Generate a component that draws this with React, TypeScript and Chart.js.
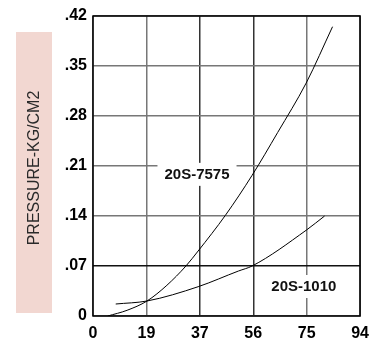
import React, { useEffect, useRef } from "react";
import { Chart, registerables } from "chart.js";

Chart.register(...registerables);

const yTitle = "PRESSURE-KG/CM2";
const xTicks = [0, 19, 37, 56, 75, 94];
const yTicks = [0, 0.07, 0.14, 0.21, 0.28, 0.35, 0.42];

const s7575X = [5.2, 12, 19, 26, 32.7, 37, 46.6, 56, 65, 75, 84.3];
const s7575Y = [0, 0.008, 0.021, 0.043, 0.07, 0.091, 0.141, 0.197, 0.257, 0.326, 0.405];
const s1010X = [8.0, 19, 37, 51.2, 56, 75, 81.5];
const s1010Y = [0.0168, 0.021, 0.041, 0.063, 0.07, 0.12, 0.14];

const labels = [
  { text: "20S-7575", x: 36.6, y: 0.199 },
  { text: "20S-1010", x: 74.2, y: 0.042 },
];

const FONT = "'Liberation Sans', Arial, sans-serif";

const decor = {
  id: "decor",
  beforeDraw(chart: any) {
    const ctx = chart.ctx;
    ctx.save();
    ctx.fillStyle = "#f2d7d1";
    ctx.fillRect(16, 32, 36, 281);
    ctx.translate(35, 168);
    ctx.rotate(-Math.PI / 2);
    ctx.fillStyle = "#2a2a2a";
    ctx.font = "16px " + FONT;
    ctx.textAlign = "center";
    ctx.textBaseline = "middle";
    ctx.fillText(yTitle, 0, 0);
    ctx.restore();
  },
  afterDatasetsDraw(chart: any) {
    const ctx = chart.ctx;
    const a = chart.chartArea;
    const xs = chart.scales.x;
    const ys = chart.scales.y;
    ctx.save();
    ctx.font = "bold 15px " + FONT;
    ctx.textAlign = "center";
    ctx.textBaseline = "middle";
    for (const l of labels) {
      const px = xs.getPixelForValue(l.x);
      const py = ys.getPixelForValue(l.y);
      const w = ctx.measureText(l.text).width;
      ctx.fillStyle = "#fff";
      ctx.fillRect(px - w / 2 - 7, py - 11, w + 14, 23);
      ctx.fillStyle = "#111";
      ctx.fillText(l.text, px, py + 1);
    }
    ctx.strokeStyle = "#000";
    ctx.lineWidth = 1.5;
    ctx.strokeRect(a.left, a.top, a.right - a.left, a.bottom - a.top);
    ctx.restore();
  },
};

export default function App() {
  const ref = useRef<HTMLCanvasElement>(null);
  useEffect(() => {
    if (!ref.current) return;
    const chart = new Chart(ref.current, {
      type: "scatter",
      data: {
        datasets: [
          {
            data: s7575X.map((x, i) => ({ x, y: s7575Y[i] })),
            showLine: true,
            borderColor: "#000",
            borderWidth: 1,
            pointRadius: 0,
            cubicInterpolationMode: "monotone",
          } as any,
          {
            data: s1010X.map((x, i) => ({ x, y: s1010Y[i] })),
            showLine: true,
            borderColor: "#000",
            borderWidth: 1,
            pointRadius: 0,
            cubicInterpolationMode: "monotone",
          } as any,
        ],
      },
      options: {
        responsive: false,
        animation: false,
        layout: { padding: { left: 0, right: 14, top: 16, bottom: 0 } },
        plugins: { legend: { display: false }, tooltip: { enabled: false } },
        scales: {
          x: {
            type: "linear",
            min: 0,
            max: 94,
            afterBuildTicks: (s: any) => {
              s.ticks = xTicks.map((_, i) => ({ value: (94 / 5) * i }));
            },
            afterFit: (s: any) => {
              s.height = 25;
            },
            ticks: {
              padding: 8,
              color: "#000",
              font: { family: FONT, size: 16, weight: "bold" },
              callback: (_v: any, i: number) => String(xTicks[i]),
              maxRotation: 0,
            },
            grid: {
              drawTicks: false,
              lineWidth: 1.5,
              color: (c: any) =>
                c.index === 2 || c.index === 3 ? "#333" : "#777",
            },
            border: { display: false },
          },
          y: {
            type: "linear",
            min: 0,
            max: 0.42,
            afterBuildTicks: (s: any) => {
              s.ticks = yTicks.map((v) => ({ value: v }));
            },
            afterFit: (s: any) => {
              s.width = 93;
            },
            ticks: {
              padding: 6,
              color: "#000",
              font: { family: FONT, size: 16, weight: "bold" },
              callback: (v: any) =>
                Number(v) === 0 ? "0" : Number(v).toFixed(2).replace(/^0/, ""),
            },
            grid: {
              drawTicks: false,
              lineWidth: 1.5,
              color: (c: any) => (c.index === 1 ? "#111" : "#777"),
            },
            border: { display: false },
          },
        },
      },
      plugins: [decor],
    });
    return () => chart.destroy();
  }, []);
  return (
    <div style={{ position: "absolute", left: 0, top: 0, width: 377, height: 341 }}>
      <canvas ref={ref} width={377} height={341} style={{ display: "block" }} />
    </div>
  );
}
